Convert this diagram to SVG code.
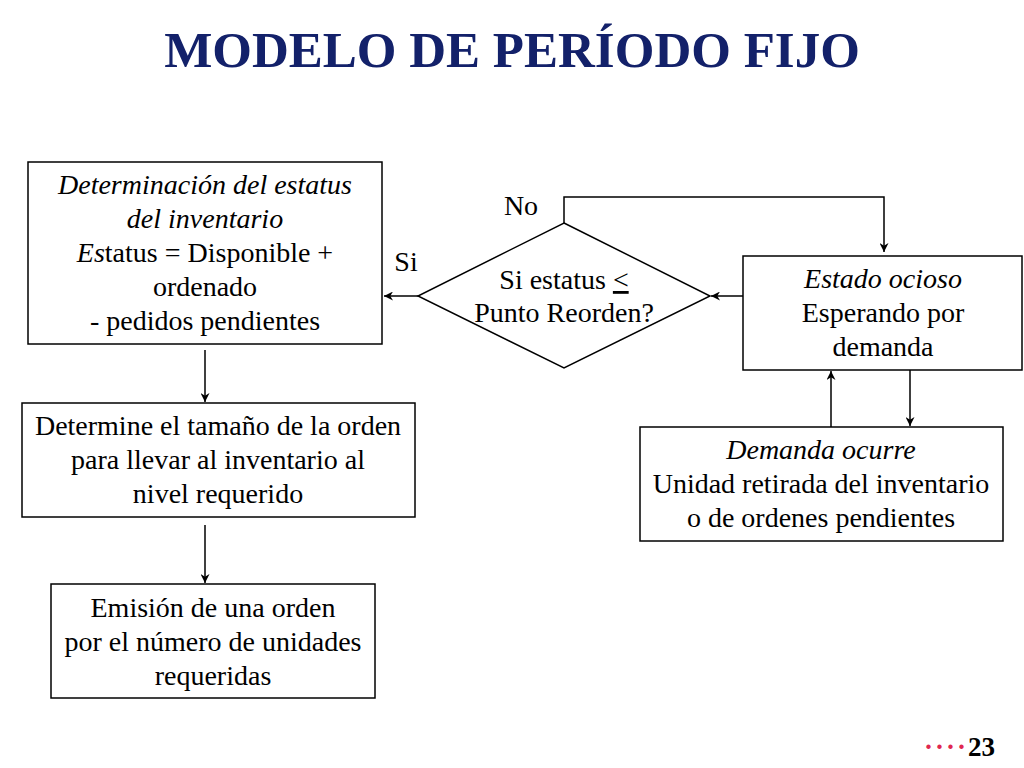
<svg xmlns="http://www.w3.org/2000/svg" width="1024" height="768" viewBox="0 0 1024 768">
<defs>
<marker id="ah" viewBox="0 0 10 10" refX="10" refY="5" markerWidth="9" markerHeight="9" markerUnits="userSpaceOnUse" orient="auto">
<path d="M0,0 L10,5 L0,10 L3,5 Z" fill="#000"/>
</marker>
<style>
.box{fill:#fff;stroke:#000;stroke-width:1.5}
.t{font-size:28px;fill:#000;text-anchor:middle}
.i{font-style:italic}
.c{fill:none;stroke:#000;stroke-width:1.5;marker-end:url(#ah)}
</style>
</defs>
<rect width="1024" height="768" fill="#fff"/>
<g font-family="'Liberation Serif', 'Times New Roman', serif">
<text x="512" y="67" font-size="51" font-weight="bold" fill="#13216a" text-anchor="middle">MODELO DE PERÍODO FIJO</text>

<g id="connectors">
<line class="c" x1="205" y1="350" x2="205" y2="402"/>
<line class="c" x1="205" y1="525" x2="205" y2="583"/>
<line class="c" x1="418" y1="296" x2="384" y2="296"/>
<line class="c" x1="743" y1="296" x2="711" y2="296"/>
<polyline class="c" points="564,223 564,197 884,197 884,252"/>
<line class="c" x1="831" y1="427" x2="831" y2="371"/>
<line class="c" x1="910" y1="367" x2="910" y2="426"/>
<text class="t" x="521" y="215">No</text>
<text class="t" x="406" y="271">Si</text>
</g>

<g id="n1">
<rect class="box" x="28" y="162" width="354" height="182"/>
<text class="t" x="205" y="194"><tspan class="i">Determinación del estatus</tspan></text>
<text class="t" x="205" y="228"><tspan class="i">del inventario</tspan></text>
<text class="t" x="205" y="262"><tspan class="i">Es</tspan>tatus = Disponible +</text>
<text class="t" x="205" y="296">ordenado</text>
<text class="t" x="205" y="330">- pedidos pendientes</text>
</g>

<g id="n2">
<rect class="box" x="22" y="403" width="393" height="114"/>
<text class="t" x="218" y="435">Determine el tamaño de la orden</text>
<text class="t" x="218" y="469">para llevar al inventario al</text>
<text class="t" x="218" y="503">nivel requerido</text>
</g>

<g id="n3">
<rect class="box" x="51" y="584" width="324" height="114"/>
<text class="t" x="213" y="617">Emisión de una orden</text>
<text class="t" x="213" y="651">por el número de unidades</text>
<text class="t" x="213" y="685">requeridas</text>
</g>

<g id="decision">
<polygon class="box" points="564,223 710,296 564,368 418,296"/>
<text class="t" x="564" y="289">Si estatus <tspan text-decoration="underline">&lt;</tspan></text>
<text class="t" x="564" y="322">Punto Reorden?</text>
</g>

<g id="n4">
<rect class="box" x="743" y="256" width="279" height="114"/>
<text class="t" x="883" y="288"><tspan class="i">Estado ocioso</tspan></text>
<text class="t" x="883" y="322">Esperando por</text>
<text class="t" x="883" y="356">demanda</text>
</g>

<g id="n5">
<rect class="box" x="640" y="427" width="363" height="114"/>
<text class="t" x="821" y="459"><tspan class="i">Demanda ocurre</tspan></text>
<text class="t" x="821" y="493">Unidad retirada del inventario</text>
<text class="t" x="821" y="527">o de ordenes pendientes</text>
</g>

<text x="995" y="756" font-size="27" font-weight="bold" text-anchor="end"><tspan fill="#e0284f" letter-spacing="2">····</tspan><tspan fill="#000">23</tspan></text>
</g>
</svg>
